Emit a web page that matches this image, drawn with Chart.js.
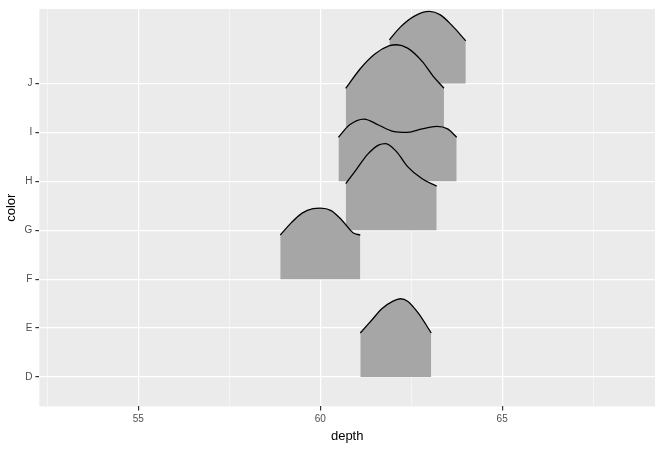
<!DOCTYPE html>
<html><head><meta charset="utf-8">
<script src="https://cdn.jsdelivr.net/npm/chart.js@4/dist/chart.umd.min.js"></script>
<style>html,body{margin:0;padding:0;background:#fff}#w{width:660px;height:450px}</style>
</head><body><div id="w"><canvas id="c"></canvas></div>
<script>
const categories = ["D","E","F","G","H","I","J"];
const xTicks = [52.5,55,57.5,60,62.5,65,67.5];
// ridge curves: [depth, baseline + scaled density]
const ridgeD = [[61.1,1.9],[61.4,2.15],[61.7,2.4],[62.0,2.55],[62.2,2.6],[62.4,2.55],[62.7,2.3],[63.05,1.9]];
const ridgeF = [[58.9,3.9],[59.2,4.15],[59.5,4.35],[59.8,4.44],[60.0,4.45],[60.3,4.4],[60.6,4.2],[60.9,3.95],[61.1,3.9]];
const ridgeG = [[60.7,4.95],[61.0,5.25],[61.3,5.55],[61.6,5.74],[61.8,5.77],[62.1,5.6],[62.4,5.3],[62.8,5.05],[63.2,4.9]];
const ridgeH = [[60.5,5.9],[60.8,6.15],[61.2,6.27],[61.6,6.15],[62.0,6.02],[62.4,6.0],[62.8,6.07],[63.2,6.12],[63.5,6.07],[63.75,5.9]];
const ridgeI = [[60.7,6.9],[61.1,7.3],[61.5,7.6],[61.9,7.77],[62.1,7.79],[62.4,7.72],[62.8,7.45],[63.1,7.15],[63.4,6.9]];
const ridgeJ = [[61.9,7.89],[62.2,8.15],[62.6,8.38],[63.0,8.47],[63.3,8.4],[63.6,8.2],[64.0,7.87]];
const ridges = [["D",ridgeD],["F",ridgeF],["G",ridgeG],["H",ridgeH],["I",ridgeI],["J",ridgeJ]];

const datasets = ridges.map(([cat,pts])=>({
  label:cat,
  data:pts.map(p=>({x:p[0],y:p[1]})),
  fill:{value:categories.indexOf(cat)+1},
  backgroundColor:'#A6A6A6',
  borderColor:'#000',
  borderWidth:1.3,
  pointRadius:0,
  tension:0.4,
  cubicInterpolationMode:'monotone'
}));

const bg = {id:'bg',beforeDraw(ch){const a=ch.chartArea,c=ch.ctx;c.save();c.fillStyle='#EBEBEB';c.fillRect(a.left,a.top,a.right-a.left,a.bottom-a.top);c.restore();}};

new Chart(document.getElementById('c'),{
  type:'line',
  data:{datasets},
  plugins:[bg],
  options:{
    responsive:true,maintainAspectRatio:false,animation:false,
    layout:{padding:{top:5,right:5,left:0,bottom:2}},
    plugins:{legend:{display:false},tooltip:{enabled:false}},
    scales:{
      x:{type:'linear',min:52.28,max:69.2,
        afterBuildTicks(s){s.ticks=xTicks.map(v=>({value:v}));},
        border:{display:false},
        grid:{color:'#fff',lineWidth:c=>c.tick&&c.tick.value%5===0?1.2:0.5,
          tickColor:c=>c.tick&&c.tick.value%5===0?'#333':'rgba(0,0,0,0)',tickLength:4},
        ticks:{color:'#4D4D4D',font:{family:'Liberation Sans',size:10},maxRotation:0,autoSkip:false,
          callback:v=>v%5===0?String(v):''},
        title:{display:true,text:'depth',color:'#000',font:{family:'Liberation Sans',size:13},padding:{top:0}}
      },
      y:{type:'linear',min:0.4,max:8.52,
        afterBuildTicks(s){s.ticks=categories.map((c,i)=>({value:i+1}));},
        border:{display:false},
        grid:{color:'#fff',lineWidth:1.2,tickColor:'#333',tickLength:4},
        ticks:{color:'#4D4D4D',font:{family:'Liberation Sans',size:10},autoSkip:false,
          callback:v=>categories[v-1]||''},
        title:{display:true,text:'color',color:'#000',font:{family:'Liberation Sans',size:13},padding:{bottom:2}}
      }
    }
  }
});
</script></body></html>
